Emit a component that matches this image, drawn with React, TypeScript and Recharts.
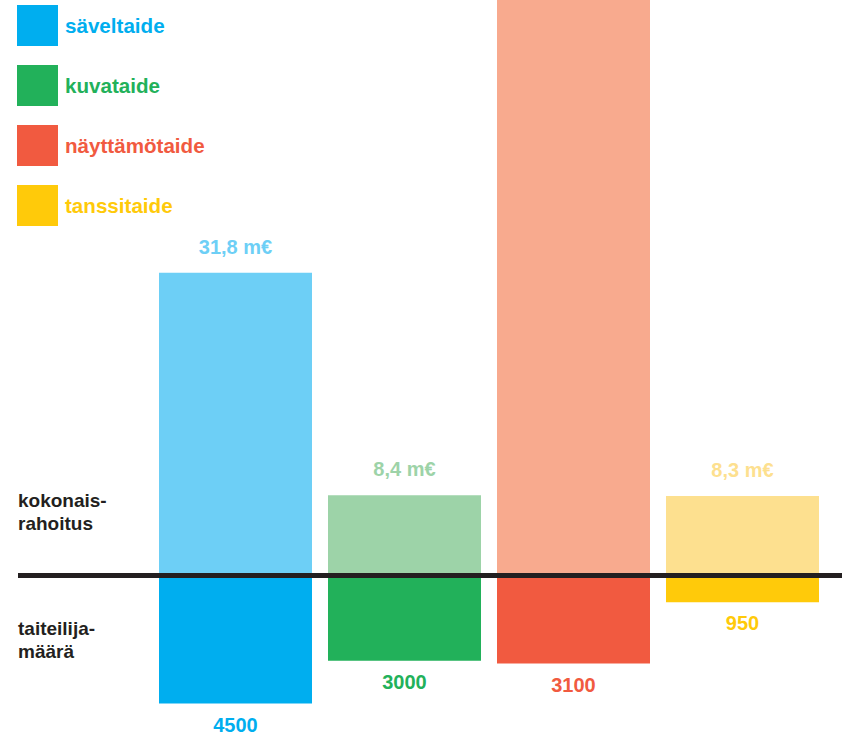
import React from 'react';
import { BarChart, Bar, XAxis, YAxis, Cell, LabelList } from 'recharts';

const categories = ['säveltaide', 'kuvataide', 'näyttämötaide', 'tanssitaide'];
// kokonaisrahoitus, m€ (näyttämötaide runs off the top of the picture)
const funding = [31.8, 8.4, 72, 8.3];
const fundingLabels = ['31,8 m€', '8,4 m€', '', '8,3 m€'];
// taiteilijamäärä
const artists = [4500, 3000, 3100, 950];

const darkColors = ['#00AEEF', '#22B15A', '#F15A40', '#FFCA0A'];
const lightColors = ['#6DCFF6', '#9DD3A8', '#F8AA8E', '#FDE08F'];

const font = '"Liberation Sans", Arial, sans-serif';

const topData = categories.map((name, i) => ({ name, value: funding[i], label: fundingLabels[i] }));
const bottomData = categories.map((name, i) => ({ name, value: artists[i] }));

const margin = { top: 0, right: 22, bottom: 0, left: 151 };

const TopLabel = (props: any) => {
  const { x, y, width, index } = props;
  const ty = y - 26;
  if (ty < 10 || !fundingLabels[index]) return null;
  return (
    <text x={x + width / 2} y={ty} textAnchor="middle" dominantBaseline="central"
      fill={lightColors[index]} fontFamily={font} fontWeight={700} fontSize={20}>
      {fundingLabels[index]}
    </text>
  );
};

const BottomLabel = (props: any) => {
  const { x, y, width, height, index } = props;
  const bottom = Math.max(y, y + height);
  return (
    <text x={x + width / 2} y={bottom + 21} textAnchor="middle" dominantBaseline="central"
      fill={darkColors[index]} fontFamily={font} fontWeight={700} fontSize={20}>
      {artists[index]}
    </text>
  );
};

const sideText: React.CSSProperties = {
  position: 'absolute',
  left: 18,
  fontFamily: font,
  fontWeight: 700,
  fontSize: 19,
  lineHeight: '23px',
  color: '#231F20',
};

export default function App() {
  return (
    <div style={{ position: 'absolute', top: 0, left: 0, width: 849, height: 735, background: '#fff' }}>
      <div style={{ position: 'absolute', top: 0, left: 0 }}>
        <BarChart width={849} height={575} data={topData} margin={margin}>
          <XAxis dataKey="name" hide />
          <YAxis hide domain={[0, 60.5]} allowDataOverflow />
          <Bar dataKey="value" barSize={153} isAnimationActive={false}>
            {topData.map((d, i) => (
              <Cell key={d.name} fill={lightColors[i]} />
            ))}
            <LabelList dataKey="label" content={TopLabel} />
          </Bar>
        </BarChart>
      </div>
      <div style={{ position: 'absolute', top: 575, left: 0 }}>
        <BarChart width={849} height={160} data={bottomData} margin={margin}>
          <XAxis dataKey="name" hide />
          <YAxis hide reversed domain={[0, 5600]} />
          <Bar dataKey="value" barSize={153} isAnimationActive={false}>
            {bottomData.map((d, i) => (
              <Cell key={d.name} fill={darkColors[i]} />
            ))}
            <LabelList dataKey="value" content={BottomLabel} />
          </Bar>
        </BarChart>
      </div>
      <div style={{ position: 'absolute', left: 18, top: 573, width: 824, height: 5, background: '#231F20' }} />
      {categories.map((c, i) => (
        <div key={c} style={{ position: 'absolute', left: 17, top: 5 + i * 60, height: 41, display: 'flex', alignItems: 'center' }}>
          <div style={{ width: 41, height: 41, background: darkColors[i] }} />
          <span style={{ marginLeft: 7, fontFamily: font, fontWeight: 700, fontSize: 20.6, color: darkColors[i] }}>{c}</span>
        </div>
      ))}
      <div style={{ ...sideText, top: 489 }}>kokonais-<br />rahoitus</div>
      <div style={{ ...sideText, top: 617 }}>taiteilija-<br />määrä</div>
    </div>
  );
}
